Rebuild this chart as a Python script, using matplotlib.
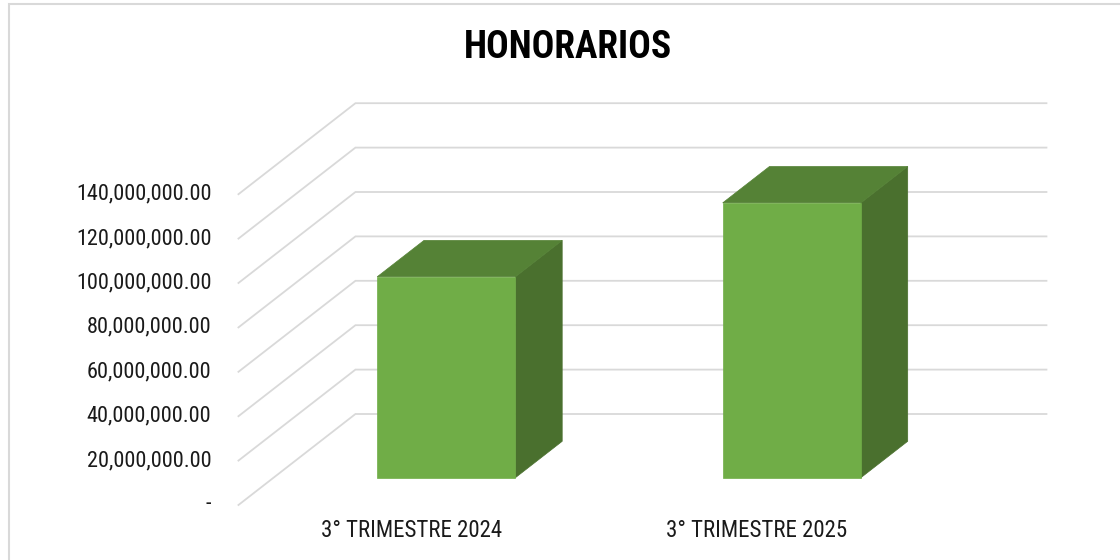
import matplotlib
matplotlib.use("Agg")
import matplotlib.pyplot as plt
from matplotlib.patches import Polygon, Rectangle
from matplotlib import font_manager as fm

# ---- data ----
title = "HONORARIOS"
categories = ["3° TRIMESTRE 2024", "3° TRIMESTRE 2025"]
values = [90_500_000, 123_800_000]
tick_values = [0, 20_000_000, 40_000_000, 60_000_000, 80_000_000,
               100_000_000, 120_000_000, 140_000_000]
tick_labels = ["-"] + [f"{v:,.2f}" for v in tick_values[1:]]

_avail = {f.name for f in fm.fontManager.ttflist}
_pref = ["Liberation Sans Narrow", "Arial Narrow", "Roboto Condensed",
         "Archivo Narrow", "Liberation Sans"]
_main = next((f for f in _pref if f in _avail), "DejaVu Sans")
FONT = [_main, "DejaVu Sans"]

# ---- styling / geometry ----
front_col = "#70AD47"
top_col = "#558236"
side_col = "#4A702E"
grid_col = "#D9D9D9"

W, H = 1120, 560
fig = plt.figure(figsize=(W / 100, H / 100), dpi=100)
ax = fig.add_axes([0, 0, 1, 1])
ax.set_axis_off()

px_per_cat = 345.5
c0_px = 411.2
px_per_val = 44.4 / 20_000_000
y0_px = 505
ax.set_xlim(-c0_px / px_per_cat, (W - c0_px) / px_per_cat)
ax.set_ylim(-(H - y0_px) / px_per_val, y0_px / px_per_val)

DX = 117 / px_per_cat
DY = 91 / px_per_val


def P(c, v, d):
    return (c + d * DX, v + d * DY)


cmin, cmax = -0.5, len(categories) - 0.5

for v in tick_values:
    a = P(cmin, v, 0)
    b = P(cmin, v, 1)
    e = P(cmax, v, 1)
    ax.plot([a[0], b[0], e[0]], [a[1], b[1], e[1]], color=grid_col,
            lw=1.3, solid_joinstyle="miter", zorder=1)

for v, lab in zip(tick_values, tick_labels):
    x, y = P(cmin, v, 0)
    ax.text(x - 27 / px_per_cat, y, lab, ha="right", va="center",
            fontsize=16, family=FONT, color="#1a1a1a")

bw = 0.4
d0, d1 = 0.3, 0.7
for i, v in enumerate(values):
    l, r = i - bw / 2, i + bw / 2
    front = [P(l, 0, d0), P(r, 0, d0), P(r, v, d0), P(l, v, d0)]
    side = [P(r, 0, d0), P(r, 0, d1), P(r, v, d1), P(r, v, d0)]
    top = [P(l, v, d0), P(r, v, d0), P(r, v, d1), P(l, v, d1)]
    for poly, col in ((side, side_col), (top, top_col), (front, front_col)):
        ax.add_patch(Polygon(poly, closed=True, facecolor=col,
                             edgecolor=col, lw=0.5, zorder=3))

for i, lab in enumerate(categories):
    ax.text(i, -11_300_000, lab, ha="center", va="center",
            fontsize=16.5, family=FONT, color="#1a1a1a")

fig.text(568 / W, 1 - 48 / H, title, ha="center", va="center",
         fontsize=27, fontweight="bold", family=FONT, color="black")

fig.patches.append(Rectangle((9 / W, -0.1), 1.2, 1 - 4 / H + 0.1,
                             transform=fig.transFigure, fill=False,
                             edgecolor=grid_col, lw=1.5))

fig.savefig("out.png", dpi=100, facecolor="white")
